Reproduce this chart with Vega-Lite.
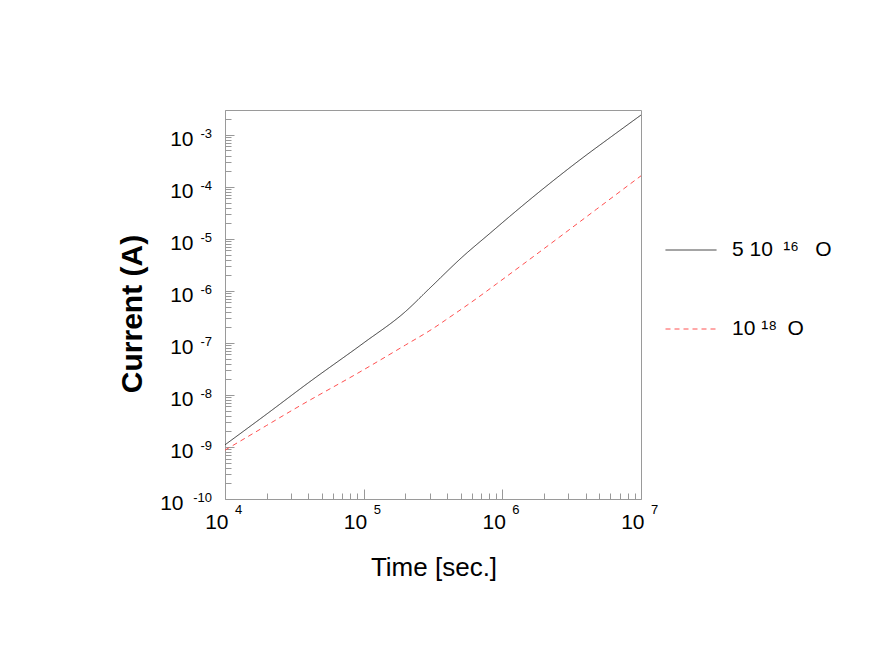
{
  "$schema": "https://vega.github.io/schema/vega-lite/v6.json",
  "width": 416,
  "height": 389,
  "autosize": {"type": "none"},
  "padding": {"left": 225, "top": 110, "right": 231, "bottom": 165},
  "background": "white",
  "config": {
    "view": {"stroke": "#9a9a9a", "strokeWidth": 1},
    "font": "Liberation Sans"
  },
  "datasets": {
    "curves": [
      {"series": "5 10\u2002¹⁶\u2002 O", "time": 10000, "current": 1.1e-9},
      {"series": "5 10\u2002¹⁶\u2002 O", "time": 20000, "current": 4.3e-9},
      {"series": "5 10\u2002¹⁶\u2002 O", "time": 40000, "current": 1.72e-8},
      {"series": "5 10\u2002¹⁶\u2002 O", "time": 100000, "current": 1.0e-7},
      {"series": "5 10\u2002¹⁶\u2002 O", "time": 200000, "current": 4.0e-7},
      {"series": "5 10\u2002¹⁶\u2002 O", "time": 300000, "current": 1.13e-6},
      {"series": "5 10\u2002¹⁶\u2002 O", "time": 520000, "current": 4.6e-6},
      {"series": "5 10\u2002¹⁶\u2002 O", "time": 820000, "current": 1.3e-5},
      {"series": "5 10\u2002¹⁶\u2002 O", "time": 1130000, "current": 2.7e-5},
      {"series": "5 10\u2002¹⁶\u2002 O", "time": 2000000, "current": 9.5e-5},
      {"series": "5 10\u2002¹⁶\u2002 O", "time": 3840000, "current": 3.7e-4},
      {"series": "5 10\u2002¹⁶\u2002 O", "time": 6000000, "current": 8.9e-4},
      {"series": "5 10\u2002¹⁶\u2002 O", "time": 10000000, "current": 2.4e-3},
      {"series": "10 ¹⁸\u2002O", "time": 10000, "current": 8.7e-10},
      {"series": "10 ¹⁸\u2002O", "time": 20000, "current": 2.6e-9},
      {"series": "10 ¹⁸\u2002O", "time": 31000, "current": 5.2e-9},
      {"series": "10 ¹⁸\u2002O", "time": 100000, "current": 3.05e-8},
      {"series": "10 ¹⁸\u2002O", "time": 200000, "current": 9.1e-8},
      {"series": "10 ¹⁸\u2002O", "time": 320000, "current": 1.93e-7},
      {"series": "10 ¹⁸\u2002O", "time": 390000, "current": 2.76e-7},
      {"series": "10 ¹⁸\u2002O", "time": 650000, "current": 7.1e-7},
      {"series": "10 ¹⁸\u2002O", "time": 910000, "current": 1.37e-6},
      {"series": "10 ¹⁸\u2002O", "time": 1770000, "current": 5.1e-6},
      {"series": "10 ¹⁸\u2002O", "time": 4800000, "current": 3.75e-5},
      {"series": "10 ¹⁸\u2002O", "time": 10000000, "current": 1.63e-4}
    ],
    "yexp": [
      {"p": 1e-10, "e": "-10"},
      {"p": 1e-9, "e": "-9"},
      {"p": 1e-8, "e": "-8"},
      {"p": 1e-7, "e": "-7"},
      {"p": 1e-6, "e": "-6"},
      {"p": 1e-5, "e": "-5"},
      {"p": 1e-4, "e": "-4"},
      {"p": 1e-3, "e": "-3"}
    ],
    "xexp": [
      {"p": 10000, "e": "4"},
      {"p": 100000, "e": "5"},
      {"p": 1000000, "e": "6"},
      {"p": 10000000, "e": "7"}
    ]
  },
  "layer": [
    {
      "data": {"name": "curves"},
      "mark": {"type": "line", "strokeWidth": 1, "interpolate": "monotone"},
      "encoding": {
        "x": {
          "field": "time",
          "type": "quantitative",
          "scale": {"type": "log", "domain": [10000, 10000000], "nice": false},
          "axis": {
            "values": [10000, 20000, 30000, 40000, 50000, 60000, 70000, 80000, 90000, 100000, 200000, 300000, 400000, 500000, 600000, 700000, 800000, 900000, 1000000, 2000000, 3000000, 4000000, 5000000, 6000000, 7000000, 8000000, 9000000, 10000000],
            "labelExpr": "abs(log(datum.value)/LN10 - round(log(datum.value)/LN10)) < 0.001 ? '10' : ''",
            "labelFont": "Liberation Sans",
            "labelFontSize": 21,
            "labelColor": "black",
            "labelAlign": "right",
            "labelBaseline": "alphabetic",
            "labelOffset": 3,
            "labelPadding": 39,
            "labelFlush": false,
            "labelOverlap": false,
            "labelBound": false,
            "domain": false,
            "grid": false,
            "tickColor": "#999999",
            "tickWidth": 1,
            "tickSize": {"condition": {"test": "abs(log(datum.value)/LN10 - round(log(datum.value)/LN10)) < 0.001", "value": -10}, "value": -6},
            "title": "Time [sec.]",
            "titleFont": "Liberation Sans",
            "titleFontSize": 26,
            "titleFontWeight": "normal",
            "titleColor": "black",
            "titleAlign": "center",
            "titleBaseline": "alphabetic",
            "titleX": 208.5,
            "titleY": 76.6
          }
        },
        "y": {
          "field": "current",
          "type": "quantitative",
          "scale": {"type": "log", "domain": [1e-10, 3e-3], "nice": false},
          "axis": {
            "values": [1e-10, 2e-10, 3e-10, 4e-10, 5e-10, 6e-10, 7e-10, 8e-10, 9e-10, 1e-9, 2e-9, 3e-9, 4e-9, 5e-9, 6e-9, 7e-9, 8e-9, 9e-9, 1e-8, 2e-8, 3e-8, 4e-8, 5e-8, 6e-8, 7e-8, 8e-8, 9e-8, 1e-7, 2e-7, 3e-7, 4e-7, 5e-7, 6e-7, 7e-7, 8e-7, 9e-7, 1e-6, 2e-6, 3e-6, 4e-6, 5e-6, 6e-6, 7e-6, 8e-6, 9e-6, 1e-5, 2e-5, 3e-5, 4e-5, 5e-5, 6e-5, 7e-5, 8e-5, 9e-5, 1e-4, 2e-4, 3e-4, 4e-4, 5e-4, 6e-4, 7e-4, 8e-4, 9e-4, 1e-3, 2e-3, 3e-3],
            "labelExpr": "abs(log(datum.value)/LN10 - round(log(datum.value)/LN10)) < 0.001 ? '10' : ''",
            "labelFont": "Liberation Sans",
            "labelFontSize": 21,
            "labelColor": "black",
            "labelAlign": "right",
            "labelBaseline": "alphabetic",
            "labelOffset": 10.7,
            "labelPadding": {"condition": {"test": "datum.value < 2e-10", "value": 51}, "value": 41},
            "labelFlush": false,
            "labelOverlap": false,
            "labelBound": false,
            "domain": false,
            "grid": false,
            "tickColor": "#999999",
            "tickWidth": 1,
            "tickSize": {"condition": {"test": "abs(log(datum.value)/LN10 - round(log(datum.value)/LN10)) < 0.001", "value": -9}, "value": -6},
            "title": "Current (A)",
            "titleFont": "Liberation Sans",
            "titleFontSize": 30,
            "titleFontWeight": "bold",
            "titleColor": "black",
            "titleAngle": -90,
            "titleAlign": "center",
            "titleBaseline": "alphabetic",
            "titleX": -84,
            "titleY": 203.5
          }
        },
        "color": {
          "field": "series",
          "type": "nominal",
          "scale": {"domain": ["5 10\u2002¹⁶\u2002 O", "10 ¹⁸\u2002O"], "range": ["#333333", "#ff5050"]},
          "legend": {
            "orient": "none",
            "legendX": 440,
            "legendY": 114,
            "title": null,
            "padding": 0,
            "symbolType": "stroke",
            "symbolSize": 2601,
            "symbolStrokeWidth": 1,
            "labelFont": "Liberation Sans",
            "labelFontSize": 21,
            "labelColor": "black",
            "labelOffset": 15,
            "labelLimit": 300,
            "rowPadding": 43
          }
        },
        "strokeDash": {
          "field": "series",
          "type": "nominal",
          "scale": {"domain": ["5 10\u2002¹⁶\u2002 O", "10 ¹⁸\u2002O"], "range": [[1, 0], [5, 4]]},
          "legend": {
            "orient": "none",
            "legendX": 440,
            "legendY": 114,
            "title": null,
            "padding": 0,
            "symbolType": "stroke",
            "symbolSize": 2601,
            "symbolStrokeWidth": 1,
            "labelFont": "Liberation Sans",
            "labelFontSize": 21,
            "labelColor": "black",
            "labelOffset": 15,
            "labelLimit": 300,
            "rowPadding": 43
          }
        }
      }
    },
    {
      "data": {"name": "yexp"},
      "mark": {"type": "text", "align": "right", "baseline": "alphabetic", "dx": -13, "dy": 3, "fontSize": 13, "font": "Liberation Sans", "color": "black"},
      "encoding": {
        "x": {"datum": 10000, "type": "quantitative"},
        "y": {"field": "p", "type": "quantitative"},
        "text": {"field": "e"}
      }
    },
    {
      "data": {"name": "xexp"},
      "mark": {"type": "text", "align": "left", "baseline": "alphabetic", "dx": 10, "dy": 14.5, "fontSize": 13, "font": "Liberation Sans", "color": "black"},
      "encoding": {
        "x": {"field": "p", "type": "quantitative"},
        "y": {"datum": 1e-10, "type": "quantitative"},
        "text": {"field": "e"}
      }
    }
  ]
}
